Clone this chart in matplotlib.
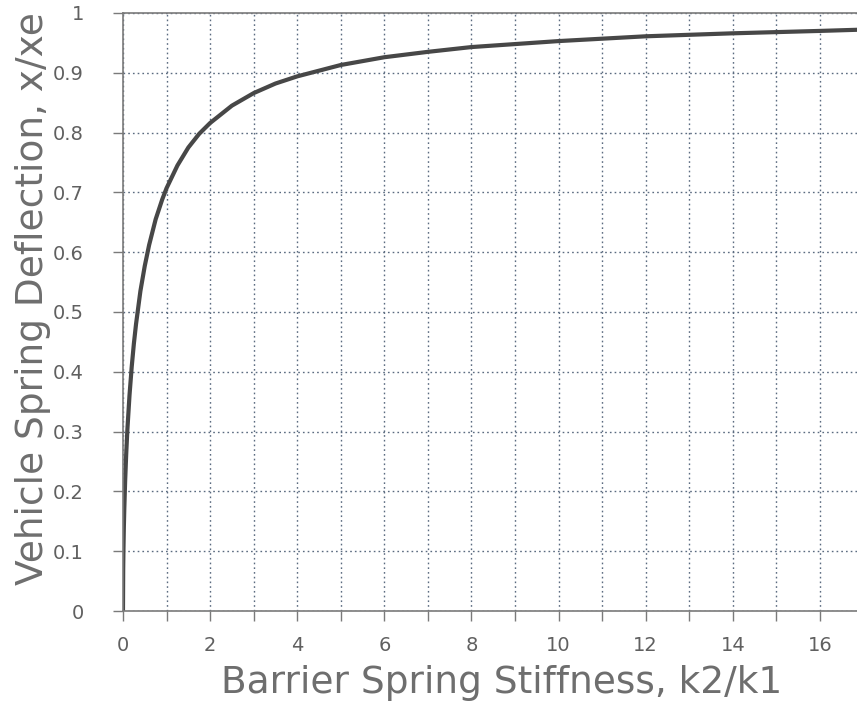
import matplotlib.pyplot as plt
import numpy as np

# stiffness ratio k2/k1 and normalised vehicle spring deflection x/xe
stiffness_ratio = [0.0, 0.005, 0.01, 0.02, 0.03, 0.05, 0.075, 0.1, 0.15, 0.2, 0.25,
                   0.3, 0.4, 0.5, 0.6, 0.75, 0.9, 1.0, 1.25, 1.5, 1.75, 2.0, 2.5,
                   3.0, 3.5, 4.0, 5.0, 6.0, 7.0, 8.0, 10.0, 12.0, 14.0, 16.0, 16.9]
deflection = [0.0, 0.070, 0.099, 0.140, 0.170, 0.218, 0.264, 0.302, 0.361, 0.408, 0.447,
              0.480, 0.535, 0.577, 0.612, 0.655, 0.688, 0.707, 0.745, 0.775, 0.798, 0.816, 0.845,
              0.866, 0.882, 0.894, 0.913, 0.926, 0.935, 0.943, 0.953, 0.961, 0.966, 0.970, 0.972]

x_minor = np.arange(0, 17, 1)
y_ticks = np.round(np.arange(0, 1.01, 0.1), 1)
y_tick_labels = ['0'] + [f'{v:.1f}' for v in y_ticks[1:-1]] + ['1']

text_color = '#6e6e6e'
tick_text_color = '#606060'
axis_color = '#7a7a7a'

fig = plt.figure(figsize=(8.57, 7.05), dpi=100)
ax = fig.add_axes([0.1435, 0.1333, 0.8565, 0.8483])

ax.plot(stiffness_ratio, deflection, color='#474747', linewidth=3.0, solid_capstyle='round')

ax.set_xlim(0, 16.85)
ax.set_ylim(0, 1)

# every integer gets a tick and a grid line, only even ones are labelled
ax.set_xticks(x_minor)
ax.set_xticklabels([str(v) if v % 2 == 0 else '' for v in x_minor])
ax.set_yticks(y_ticks)
ax.set_yticklabels(y_tick_labels)

ax.grid(True, color='#5b6b80', linestyle=(0, (1.2, 2.2)), linewidth=1.0)
ax.set_axisbelow(True)

ax.tick_params(direction='out', length=7, width=1.0, color=axis_color,
               labelcolor=tick_text_color, labelsize=14)
ax.tick_params(axis='y', pad=21)
ax.tick_params(axis='x', pad=11)

for side in ['left', 'bottom', 'top']:
    ax.spines[side].set_color(axis_color)
    ax.spines[side].set_linewidth(1.2)
ax.spines['right'].set_visible(False)

ax.set_xlabel('Barrier Spring Stiffness, k2/k1', fontsize=27, color=text_color,
              va='center')
ax.set_ylabel('Vehicle Spring Deflection, x/xe', fontsize=27, color=text_color,
              va='center')
ax.xaxis.set_label_coords(0.516, -0.12)
ax.yaxis.set_label_coords(-0.122, 0.523)

fig.savefig('out.png', dpi=100)
